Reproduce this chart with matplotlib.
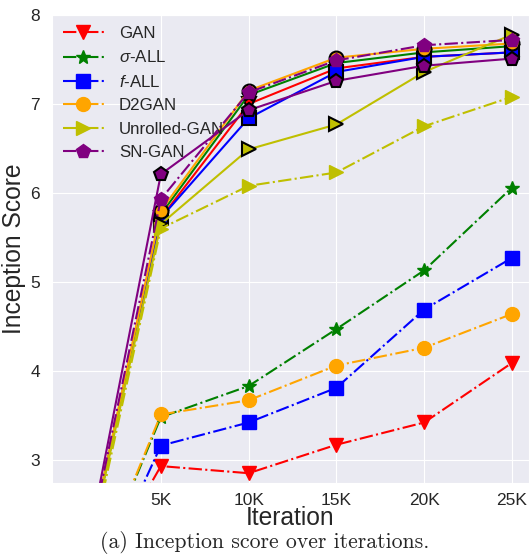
import matplotlib
matplotlib.use("Agg")
import matplotlib.pyplot as plt
import seaborn as sns

# --- data ---
iterations = [0, 5000, 10000, 15000, 20000, 25000]
tick_pos = [5000, 10000, 15000, 20000, 25000]
tick_labels = ["5K", "10K", "15K", "20K", "25K"]

methods = ["GAN", r"$\sigma$-ALL", r"$f$-ALL", "D2GAN", "Unrolled-GAN", "SN-GAN"]
colors = ["r", "g", "b", "orange", "y", "purple"]
markers = ["v", "*", "s", "o", ">", "p"]

# dash-dot runs (labelled in the legend)
gan_dash = [1.2, 2.93, 2.85, 3.17, 3.42, 4.09]
sigma_dash = [1.1, 3.48, 3.83, 4.47, 5.13, 6.06]
f_dash = [1.0, 3.16, 3.42, 3.81, 4.69, 5.27]
d2gan_dash = [1.1, 3.51, 3.67, 4.06, 4.26, 4.64]
unrolled_dash = [1.1, 5.60, 6.08, 6.23, 6.75, 7.08]
sn_dash = [1.2, 5.93, 7.13, 7.49, 7.66, 7.72]

# solid runs (black-edged markers, no legend entry)
gan_solid = [1.2, 5.72, 7.00, 7.40, 7.53, 7.58]
sigma_solid = [1.2, 5.76, 7.10, 7.46, 7.58, 7.65]
f_solid = [1.2, 5.72, 6.84, 7.36, 7.53, 7.58]
d2gan_solid = [1.2, 5.80, 7.15, 7.52, 7.62, 7.68]
unrolled_solid = [1.2, 5.65, 6.49, 6.77, 7.36, 7.78]
sn_solid = [1.2, 6.21, 6.93, 7.26, 7.43, 7.51]

dash_runs = [gan_dash, sigma_dash, f_dash, d2gan_dash, unrolled_dash, sn_dash]
solid_runs = [gan_solid, sigma_solid, f_solid, d2gan_solid, unrolled_solid, sn_solid]

sns.set_style("darkgrid")
plt.rcParams["font.family"] = ["Liberation Sans", "DejaVu Sans"]
plt.rcParams["mathtext.fontset"] = "custom"
plt.rcParams["mathtext.it"] = "Liberation Sans:italic"
plt.rcParams["mathtext.rm"] = "Liberation Sans"

fig = plt.figure(figsize=(5.29, 5.56), dpi=100)
ax = fig.add_axes([52 / 529, 1 - 483 / 556, 1 - 52 / 529, 468 / 556])

for name, c, m, ys_d, ys_s in zip(methods, colors, markers, dash_runs, solid_runs):
    ax.plot(iterations, ys_s, color=c, marker=m, linestyle="-", linewidth=1.5,
            markersize=10, markeredgecolor="black", markeredgewidth=1.5)
    ax.plot(iterations, ys_d, color=c, marker=m, linestyle="-.", linewidth=1.5,
            markersize=10, label=name)

ax.set_xlim(-1200, 25970)
ax.set_ylim(2.74, 8.0)
ax.set_xticks(tick_pos)
ax.set_xticklabels(tick_labels)
ax.set_yticks([3, 4, 5, 6, 7, 8])
ax.tick_params(axis="x", labelsize=12.5, colors="#262626", pad=3.5)
ax.tick_params(axis="y", labelsize=12.5, colors="#262626", pad=5)

ax.set_xlabel("Iteration", fontsize=17.7, color="#262626", labelpad=-1.5)
ax.set_ylabel("Inception Score", fontsize=17.7, color="#262626", labelpad=3)

ax.legend(loc="upper left", fontsize=12.2, frameon=False, handlelength=2.4,
          borderaxespad=0.25, labelspacing=0.5, handletextpad=0.9)

fig.text(0.5, 1 - 542 / 556, "(a) Inception score over iterations.",
         ha="center", va="center", fontsize=15.7, family="cmr10")

fig.savefig("out.png", dpi=100)
